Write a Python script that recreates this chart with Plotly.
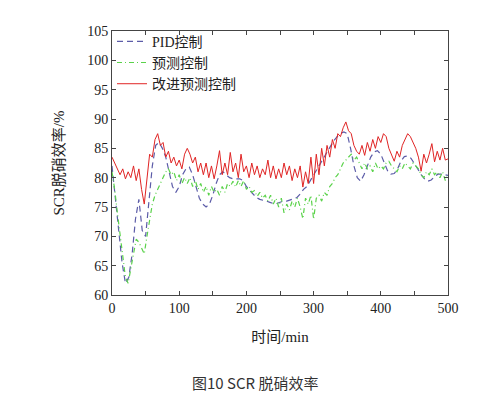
import plotly.graph_objects as go

# time axis (min)
t_pid = list(range(0, 501, 5))
t_fast = list(range(0, 501, 4))

pid = [82, 77, 71, 65.5, 62, 63, 67, 73, 76.3, 71,
       70, 76, 82, 85.5, 86, 85, 83.5, 81, 78.5, 77.5,
       78.5, 80.5, 81.5, 81.8, 80.5, 78.5, 76.5, 75.5, 75, 75.5,
       77, 79, 80.5, 81, 80.5, 80, 79.8, 79.8, 79.8, 79.5,
       78.5, 77.8, 77.2, 76.6, 76.3, 76.2, 76, 75.8, 75.6, 75.6,
       75.8, 76, 76, 76.2, 76.5, 76.6, 77.2, 78, 78.5, 79.5,
       80.5, 81.5, 82.5, 83.5, 84.5, 85.5, 86.3, 87, 87.5, 87.8,
       87.5, 85, 82, 80, 79.4, 80.5, 82, 83.5, 84.4, 84.6,
       84, 82.5, 81.2, 80.6, 80.7, 81.5, 82.8, 83.6, 83.7, 83.3,
       82.5, 81.5, 80.5, 79.8, 79.4, 79.6, 80.2, 80.6, 80.6, 80.5,
       80.4]

mpc = [81, 78, 74, 70, 66, 63, 62, 64.5, 67, 69.5, 69, 68, 67,
       70, 73, 75.5, 77, 78, 79, 80, 81, 81.5, 80.5, 81, 79.5,
       80.5, 79, 80, 79, 80, 78.5, 79.5, 78, 79, 77.5, 78.5, 77, 78.5,
       77.5, 78, 77, 78.5, 77.5, 79, 78.5, 79.4, 78.4, 79.5, 78.5, 79.5,
       78, 78.5, 77.5, 77.8, 76.8, 77.5, 76.5, 77, 76, 77, 75.5, 76.5,
       75, 76.5, 74, 75.5, 74.5, 76, 75, 76.5, 75, 73, 76.5, 75.5, 77,
       72.9, 76.5, 77, 76, 77.5, 77, 78.5, 79, 80, 80.5, 81.5, 82.5,
       83, 83.5, 84, 83, 83.5, 82.5, 81.5, 82.5, 81.5, 82, 81, 82.5, 81.5,
       82, 81.5, 82.5, 82.8, 82, 81.5, 81, 82, 81.5, 82.5, 82, 81.5, 82.5,
       82, 81.5, 80.5, 80, 81, 80.5, 81.5, 80.5, 81, 80, 81, 79.5, 80.5]

impc = [83.5, 82.5, 81.5, 80.5, 81.5, 79.8, 81, 80, 82, 79.5, 81.5, 78, 75.5,
        80, 84, 83.5, 86.5, 87.5, 85.5, 86, 83.5, 84.5, 82.5, 83.5, 82,
        83, 81.5, 84, 85, 84, 82.5, 83.5, 81, 82.5, 80.5, 82.5, 80, 82,
        79.8, 82, 84.6, 80.5, 82.5, 80.5, 84.3, 81, 82.5, 80, 84, 81,
        82, 80, 82.5, 80.5, 82, 80, 81.5, 80.5, 83, 80, 82, 79.8, 81.5,
        80, 82.5, 80.5, 82, 79.5, 81.5, 80, 82, 78.4, 81, 79, 83.5,
        79, 84, 80.5, 85, 82, 85.5, 83.5, 86.5, 85, 87.5, 87, 88.5, 89.5,
        88, 87.5, 85.5, 84.5, 84, 85.5, 83.8, 86, 84.5, 86.5, 85, 87,
        86, 87.5, 87, 85, 84, 82.8, 84.5, 83.5, 85.5, 86.5, 87.5, 87, 86,
        85, 83.5, 81.1, 84, 82.5, 84, 85.8, 82.7, 84.5, 83, 85, 83, 83.2]

serif = "Liberation Serif, Noto Sans CJK SC"

fig = go.Figure()
fig.add_trace(go.Scatter(x=t_pid, y=pid, mode="lines", name="PID控制",
                         line=dict(color="#5c5ca8", width=1.2, dash="6px,4px")))
fig.add_trace(go.Scatter(x=t_fast, y=mpc, mode="lines", name="预测控制",
                         line=dict(color="#5ad24a", width=1.2, dash="5px,3px,1px,3px")))
fig.add_trace(go.Scatter(x=t_fast, y=impc, mode="lines", name="改进预测控制",
                         line=dict(color="#e02424", width=1)))

axis_common = dict(showline=True, linecolor="#444", linewidth=1, mirror="ticks",
                   ticks="inside", ticklen=4, tickcolor="#444", showgrid=False,
                   zeroline=False, tickfont=dict(family=serif, size=14, color="#222"))

fig.update_xaxes(range=[0, 500], dtick=100,
                 minor=dict(dtick=50, ticks="inside", ticklen=4, tickcolor="#444"),
                 title=dict(text="时间/min", font=dict(family=serif, size=15, color="#222"),
                            standoff=16),
                 **axis_common)
fig.update_yaxes(range=[60, 105], dtick=5,
                 title=dict(text="SCR脱硝效率/%", font=dict(family=serif, size=15, color="#222"),
                            standoff=18),
                 **axis_common)

fig.update_layout(
    width=478, height=402,
    margin=dict(l=104, r=38, t=23, b=115),
    plot_bgcolor="white", paper_bgcolor="white",
    legend=dict(x=0.0, y=1.02, xanchor="left", yanchor="top",
                bgcolor="rgba(0,0,0,0)", font=dict(family=serif, size=14, color="#222"),
                tracegroupgap=0),
)
# caption placed under the plot, in paper coords
fig.add_annotation(text="图10 SCR 脱硝效率", x=(247 - 104) / (478 - 104 - 38),
                   y=-(387 - 287) / (287 - 23), xref="paper", yref="paper",
                   showarrow=False, font=dict(family="Noto Sans CJK SC", size=15, color="#333"))

fig.write_html("out.html")
